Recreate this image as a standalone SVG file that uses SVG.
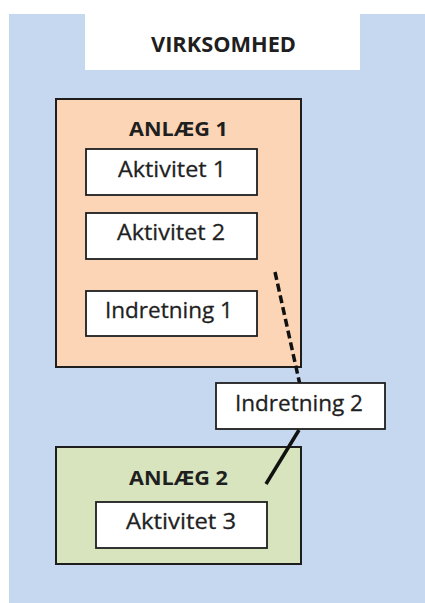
<svg xmlns="http://www.w3.org/2000/svg" width="425" height="603" viewBox="0 0 425 603">
<style>
  .t { font-family: "Open Sans", "Noto Sans", "Liberation Sans", sans-serif; fill: #1f1f1f; }
  .r { font-size: 22px; stroke: #1f1f1f; stroke-width: 0.3; }
  .b { font-weight: bold; }
  .box { fill: #ffffff; stroke: #1e1e1e; stroke-width: 1.8; }
  .outer { stroke: #1e1e1e; stroke-width: 2; }
  .conn { stroke: #111; stroke-width: 3.5; fill: none; }
</style>
<rect x="0" y="0" width="425" height="603" fill="#ffffff"/>
<g id="virksomhed">
  <rect x="9" y="14" width="416" height="589" fill="#c5d8ef"/>
  <rect x="85" y="14" width="275" height="56" fill="#ffffff"/>
  <text class="t b" x="151" y="52" font-size="21" textLength="145" lengthAdjust="spacingAndGlyphs">VIRKSOMHED</text>
</g>
<g id="anlaeg1">
  <rect class="outer" x="56" y="99" width="245" height="268" fill="#fbd5b5"/>
  <text class="t b" x="129" y="136" font-size="19" textLength="99" lengthAdjust="spacingAndGlyphs">ANLÆG 1</text>
</g>
<g id="aktivitet1">
  <rect class="box" x="86" y="149" width="171" height="46"/>
  <text class="t r" x="118" y="177" textLength="108" lengthAdjust="spacingAndGlyphs">Aktivitet 1</text>
</g>
<g id="aktivitet2">
  <rect class="box" x="86" y="213" width="171" height="46"/>
  <text class="t r" x="117" y="240" textLength="108" lengthAdjust="spacingAndGlyphs">Aktivitet 2</text>
</g>
<g id="indretning1">
  <rect class="box" x="86" y="291" width="171" height="45"/>
  <text class="t r" x="105" y="318" textLength="128" lengthAdjust="spacingAndGlyphs">Indretning 1</text>
</g>
<g id="anlaeg2">
  <rect class="outer" x="56" y="447" width="245" height="117" fill="#d7e4bd"/>
  <text class="t b" x="129" y="485" font-size="19" textLength="99" lengthAdjust="spacingAndGlyphs">ANLÆG 2</text>
</g>
<g id="aktivitet3">
  <rect class="box" x="96" y="502" width="171" height="46"/>
  <text class="t r" x="126" y="529" textLength="110" lengthAdjust="spacingAndGlyphs">Aktivitet 3</text>
</g>
<g id="connectors">
  <line class="conn" x1="275" y1="272" x2="300" y2="385" stroke-dasharray="8,4"/>
  <line class="conn" x1="299" y1="430" x2="266" y2="484"/>
</g>
<g id="indretning2">
  <rect class="box" x="216" y="383" width="169" height="46"/>
  <text class="t r" x="235" y="411" textLength="128" lengthAdjust="spacingAndGlyphs">Indretning 2</text>
</g>
</svg>
